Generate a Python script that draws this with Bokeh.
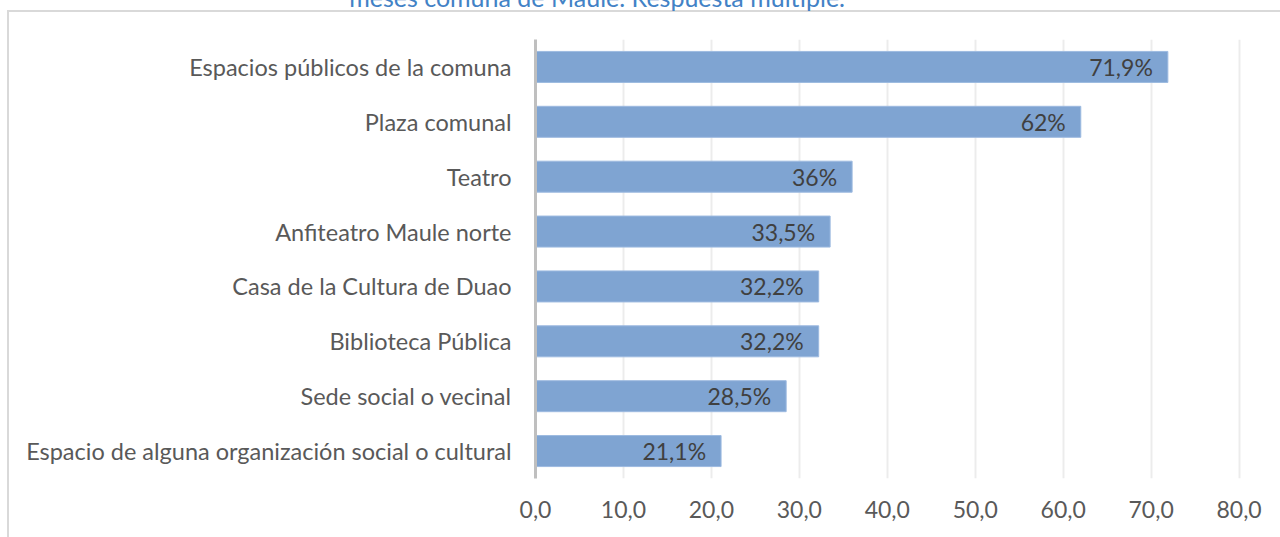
from bokeh.plotting import figure
from bokeh.models import ColumnDataSource, FactorRange, Range1d, FixedTicker, Label
from bokeh.core.properties import value
from bokeh.embed import file_html
from bokeh.resources import INLINE

categories = [
    "Espacios públicos de la comuna",
    "Plaza comunal",
    "Teatro",
    "Anfiteatro Maule norte",
    "Casa de la Cultura de Duao",
    "Biblioteca Pública",
    "Sede social o vecinal",
    "Espacio de alguna organización social o cultural",
]
values = [71.9, 62.0, 36.0, 33.5, 32.2, 32.2, 28.5, 21.1]
value_labels = ["71,9%", "62%", "36%", "33,5%", "32,2%", "32,2%", "28,5%", "21,1%"]
x_ticks = [0, 10, 20, 30, 40, 50, 60, 70, 80]
x_tick_labels = ["0,0", "10,0", "20,0", "30,0", "40,0", "50,0", "60,0", "70,0", "80,0"]
title_text = "meses comuna de Maule. Respuesta múltiple."

FONT = "Lato"
BORDER = "#d9d9d9"
box_css = (
    f"linear-gradient({BORDER}, {BORDER}) 7px 10px / 2px calc(100% - 10px) no-repeat, "
    f"linear-gradient({BORDER}, {BORDER}) 7px 10px / calc(100% - 7px) 2px no-repeat, white"
)

source = ColumnDataSource(dict(cat=categories, val=values, lab=value_labels))

p = figure(
    width=1280, height=537,
    y_range=FactorRange(factors=list(reversed(categories))),
    x_range=Range1d(0, 80.5),
    output_backend="svg", toolbar_location=None,
    min_border_left=535, min_border_right=37,
    min_border_top=39, min_border_bottom=59,
    styles={"background": box_css},
)
p.outline_line_color = None
p.background_fill_color = "white"
p.border_fill_color = None

p.hbar(y="cat", left=0, right="val", height=0.565, source=source,
       fill_color="#7fa4d2", line_color="#9dbae0", line_width=1)

p.text(x="val", y="cat", text="lab", source=source,
       text_align="right", text_baseline="middle", x_offset=-15,
       text_font=value(FONT), text_font_size="23px", text_color="#404040")

# axes
p.xaxis.ticker = FixedTicker(ticks=x_ticks)
p.xaxis.major_label_overrides = {t: l for t, l in zip(x_ticks, x_tick_labels)}
p.xaxis.axis_line_color = None
p.xaxis.major_tick_line_color = None
p.xaxis.major_tick_out = 0
p.xaxis.minor_tick_line_color = None
p.xaxis.major_label_text_font = FONT
p.xaxis.major_label_text_font_size = "23px"
p.xaxis.major_label_text_color = "#595959"
p.xaxis.major_label_standoff = 22

p.yaxis.axis_line_color = "#bfbfbf"
p.yaxis.axis_line_width = 3
p.yaxis.major_tick_line_color = None
p.yaxis.major_tick_out = 0
p.yaxis.minor_tick_line_color = None
p.yaxis.major_label_text_font = FONT
p.yaxis.major_label_text_font_size = "23.5px"
p.yaxis.major_label_text_color = "#595959"
p.yaxis.major_label_standoff = 24

p.xgrid.grid_line_color = "#ececec"
p.xgrid.grid_line_width = 2
p.ygrid.grid_line_color = None

# partially visible title above the chart box (placed in the top panel so it is not clipped to the frame)
p.add_layout(Label(x=7.0, y=8.77, text=title_text, text_align="center",
                   text_baseline="alphabetic", text_font=FONT,
                   text_font_size="25px", text_color="#4282c6"), "above")

open("out.html", "w").write(file_html(p, INLINE))
